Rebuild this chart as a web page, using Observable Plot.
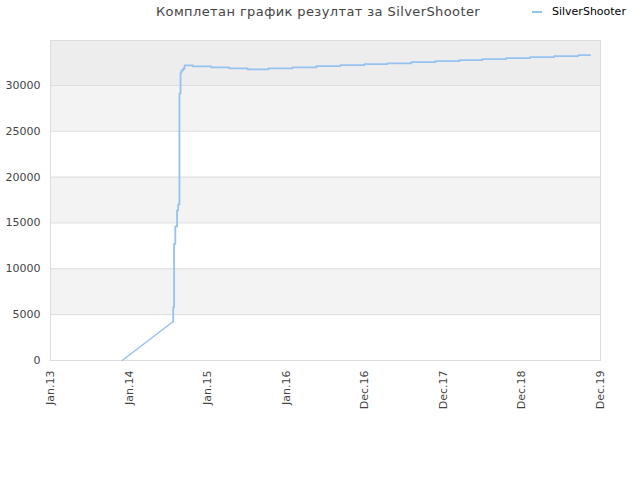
<!DOCTYPE html>
<html>
<head>
<meta charset="utf-8">
<script src="https://cdn.jsdelivr.net/npm/d3@7"></script>
<script src="https://cdn.jsdelivr.net/npm/@observablehq/plot@0.6"></script>
<style>
  html, body { margin: 0; padding: 0; background: #fff; }
  #wrap { position: relative; width: 640px; height: 480px; font-family: "DejaVu Sans", sans-serif; }
  #title { position: absolute; top: 4px; left: 0; width: 636px; text-align: center; font-size: 13px; color: #444; letter-spacing: 0.4px; }
  #legend { position: absolute; top: 5px; left: 532px; font-size: 11px; color: #000; display: flex; align-items: center; }
  #legend .sw { width: 10px; height: 2px; background: #95c2ef; margin-right: 10px; }
  #chart { position: absolute; top: 0; left: 0; }
</style>
</head>
<body>
<div id="wrap">
  <div id="chart"></div>
  <div id="title">Комплетан график резултат за SilverShooter</div>
  <div id="legend"><span class="sw"></span><span>SilverShooter</span></div>
</div>
<script>
// Rising part (linear), then step series
const rampDates = ["2013-11-30", "2014-07-25"];
const rampScores = [0, 4255];

const stepDates = [
  "2014-07-25", "2014-07-25", "2014-07-29", "2014-08-04", "2014-08-12", "2014-08-17",
  "2014-08-23", "2014-08-28", "2014-09-01", "2014-09-09", "2014-09-16",
  "2014-10-25", "2015-01-18", "2015-04-12", "2015-07-06", "2015-10-10",
  "2016-01-30", "2016-05-20", "2016-09-09", "2016-12-29", "2017-04-14",
  "2017-08-04", "2017-11-24", "2018-03-15", "2018-06-30", "2018-10-19",
  "2019-02-08", "2019-05-30", "2019-09-19", "2019-11-13"
];
const stepScores = [
  4255, 5815, 12727, 14618, 16364, 17018,
  29127, 31340, 31640, 31820, 32180,
  32070, 31960, 31850, 31740, 31850,
  31960, 32110, 32220, 32320, 32400,
  32540, 32650, 32760, 32870, 32980,
  33090, 33200, 33310, 33310
];

const tickDates = ["2013-01-01", "2014-01-01", "2015-01-01", "2016-01-01", "2016-12-31", "2017-12-31", "2018-12-31", "2019-12-31"];
const tickLabels = ["Jan.13", "Jan.14", "Jan.15", "Jan.16", "Dec.16", "Dec.17", "Dec.18", "Dec.19"];

const yTicks = [0, 5000, 10000, 15000, 20000, 25000, 30000];
const bandLow = [5000, 15000, 25000, 30000];
const bandHigh = [10000, 20000, 30000, 34900];
const bandFill = ["#f3f3f3", "#f3f3f3", "#f3f3f3", "#ededed"];

const parse = d3.utcParse("%Y-%m-%d");
const ramp = rampDates.map((d, i) => ({date: parse(d), score: rampScores[i]}));
const steps = stepDates.map((d, i) => ({date: parse(d), score: stepScores[i]}));
const ticks = tickDates.map(parse);
const bands = bandLow.map((v, i) => ({y1: v, y2: bandHigh[i], fill: bandFill[i]}));

const lineColor = "#95c2ef";

const chart = Plot.plot({
  width: 640,
  height: 480,
  marginLeft: 50,
  marginRight: 40,
  marginTop: 40,
  marginBottom: 120,
  style: {fontFamily: "DejaVu Sans, sans-serif", fontSize: "11px", color: "#444", background: "transparent"},
  x: {type: "utc", domain: [ticks[0], ticks[ticks.length - 1]], ticks: ticks,
      tickFormat: (d) => tickLabels[ticks.findIndex(t => +t === +d)], tickRotate: -90, tickSize: 0, tickPadding: 10, label: null},
  y: {domain: [0, 34900], ticks: yTicks, tickSize: 0, tickPadding: 10, tickFormat: d3.format("d"), label: null},
  marks: [
    Plot.rect(bands, {y1: "y1", y2: "y2", fill: "fill"}),
    Plot.ruleY(yTicks, {stroke: "#dddddd", strokeWidth: 1}),
    Plot.frame({stroke: "#dddddd"}),
    Plot.line(ramp, {x: "date", y: "score", stroke: lineColor, strokeWidth: 1.5}),
    Plot.line(steps, {x: "date", y: "score", stroke: lineColor, strokeWidth: 1.8, curve: "step-after"})
  ]
});
document.getElementById("chart").appendChild(chart);
</script>
</body>
</html>
